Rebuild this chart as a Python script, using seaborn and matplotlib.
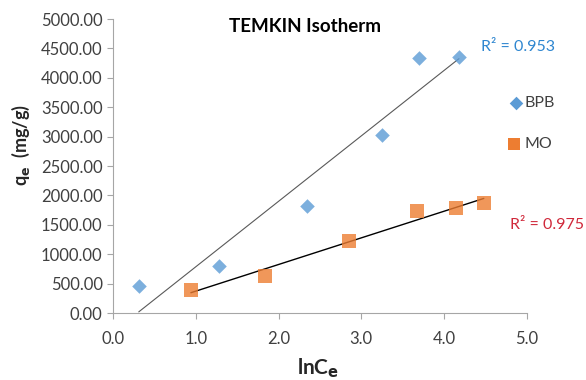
import matplotlib
matplotlib.use("Agg")
import matplotlib.pyplot as plt
import seaborn as sns
import numpy as np

# Temkin isotherm data: ln Ce vs qe for two dyes
bpb_lnce = [0.31, 1.28, 2.34, 3.25, 3.70, 4.18]
bpb_qe = [459, 800, 1820, 3030, 4340, 4360]
mo_lnce = [0.94, 1.84, 2.85, 3.67, 4.15, 4.48]
mo_qe = [400, 630, 1225, 1735, 1785, 1870]
r2_labels = ["R\u00b2 = 0.953", "R\u00b2 = 0.975"]
x_ticks = [0.0, 1.0, 2.0, 3.0, 4.0, 5.0]
y_ticks = [0, 500, 1000, 1500, 2000, 2500, 3000, 3500, 4000, 4500, 5000]

sns.set_theme(style="white")
plt.rcParams["font.family"] = ["Lato", "DejaVu Sans"]

fig = plt.figure(figsize=(5.86, 3.8), dpi=100)
ax = fig.add_axes([0.193, 0.176, 0.706, 0.774])

blue = "#5B9BD5"
orange = "#ED7D31"

sns.regplot(x=bpb_lnce, y=bpb_qe, ax=ax, ci=None, marker="D",
            scatter_kws=dict(color=blue, s=55, linewidths=0, zorder=3),
            line_kws=dict(color="#595959", lw=0.8, zorder=2))
sns.regplot(x=mo_lnce, y=mo_qe, ax=ax, ci=None, marker="s",
            scatter_kws=dict(color=orange, s=110, linewidths=0, zorder=3),
            line_kws=dict(color="#000000", lw=1.0, zorder=2))

ax.set_xlim(0, 5)
ax.set_ylim(0, 5000)
ax.set_xticks(x_ticks)
ax.set_xticklabels([f"{v:.1f}" for v in x_ticks])
ax.set_yticks(y_ticks)
ax.set_yticklabels([f"{v:.2f}" for v in y_ticks])
ax.tick_params(axis="both", which="both", direction="out", length=4,
               width=0.8, color="#A6A6A6", labelsize=12, labelcolor="#404040",
               bottom=True, left=True)
ax.tick_params(axis="x", pad=9)
for side in ["top", "right"]:
    ax.spines[side].set_visible(False)
for side in ["left", "bottom"]:
    ax.spines[side].set_color("#A6A6A6")
    ax.spines[side].set_linewidth(0.8)

fig.text(305 / 586, 1 - 27 / 380, "TEMKIN Isotherm", fontsize=13.5,
         fontweight="bold", color="#000000", ha="center", va="center")
ax.set_xlabel("lnC$_\\mathbf{e}$", fontsize=15, fontweight="bold")
ax.xaxis.set_label_coords((318 - 113) / 414, -(368 - 313) / 294)
ax.xaxis.label.set_va("center")
ax.set_ylabel("q$_\\mathbf{e}$  (mg/g)", fontsize=13, fontweight="bold")
ax.yaxis.set_label_coords(-(113 - 21) / 414, (313 - 145) / 294)
ax.yaxis.label.set_va("center")

ax.text(4.45, 4520, r2_labels[0], color="#2E86D0", fontsize=11.5, ha="left", va="center")
ax.text(4.8, 1490, r2_labels[1], color="#D0283A", fontsize=11.5, ha="left", va="center")

# legend entries at the right of the plot area
ax.scatter([4.87], [3570], marker="D", s=48, color=blue, linewidths=0,
           clip_on=False, zorder=4)
ax.text(4.97, 3570, "BPB", fontsize=11.5, color="#404040", va="center", ha="left")
ax.scatter([4.85], [2870], marker="s", s=65, color=orange, linewidths=0,
           clip_on=False, zorder=4)
ax.text(4.97, 2870, "MO", fontsize=11.5, color="#404040", va="center", ha="left")

fig.savefig("out.png", dpi=100)
